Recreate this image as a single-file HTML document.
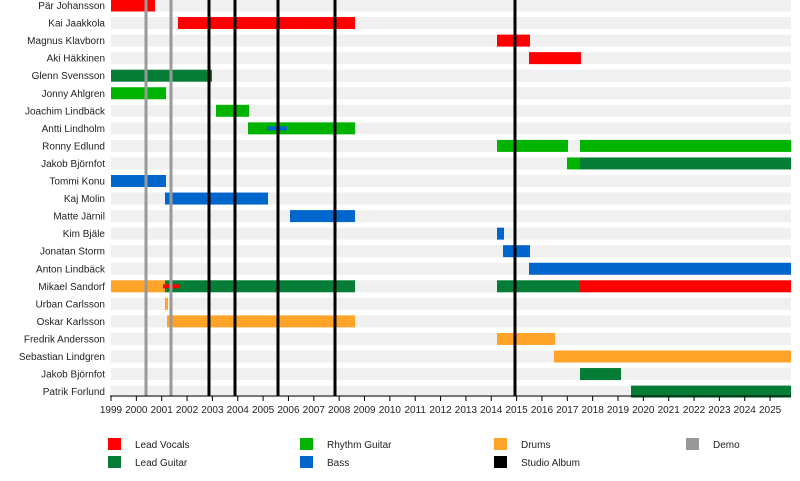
<!DOCTYPE html><html><head><style>body{margin:0;background:#fff}svg{font-family:"Liberation Sans",sans-serif;font-size:10px}</style></head><body>
<svg width="800" height="476" viewBox="0 0 800 476">
<g id="bands"></g><g id="bars"></g><g id="lines"></g><g id="lab"></g>
<script>
var ns="http://www.w3.org/2000/svg";
function el(p,t,a,txt){var e=document.createElementNS(ns,t);for(var k in a)e.setAttribute(k,a[k]);if(txt)e.textContent=txt;document.getElementById(p).appendChild(e);}
var R="#ff0000",DG="#067d36",G="#00b300",B="#0066cc",O="#ffa329";
var rows=[["Pär Johansson",[[111,155,R]]],["Kai Jaakkola",[[178,355,R]]],["Magnus Klavborn",[[497,530,R]]],["Aki Häkkinen",[[529,581,R]]],["Glenn Svensson",[[111,212,DG]]],["Jonny Ahlgren",[[111,166,G]]],["Joachim Lindbäck",[[216,249,G]]],["Antti Lindholm",[[248,355,G],[267,287,B,4]]],["Ronny Edlund",[[497,568,G],[580,791,G]]],["Jakob Björnfot",[[567,580,G],[580,791,DG]]],["Tommi Konu",[[111,166,B]]],["Kaj Molin",[[165,268,B]]],["Matte Järnil",[[290,355,B]]],["Kim Bjäle",[[497,504,B]]],["Jonatan Storm",[[503,530,B]]],["Anton Lindbäck",[[529,791,B]]],["Mikael Sandorf",[[111,165,O],[165,355,DG],[163,179,R,4],[497,580,DG],[580,791,R]]],["Urban Carlsson",[[165,168,O]]],["Oskar Karlsson",[[167,355,O]]],["Fredrik Andersson",[[497,555,O]]],["Sebastian Lindgren",[[554,791,O]]],["Jakob Björnfot",[[580,621,DG]]],["Patrik Forlund",[[631,791,DG]]]];
rows.forEach(function(r,i){var c=5.5+17.55*i;
el("bands","rect",{x:111,y:c-6,width:680,height:12,fill:"#f0f0f0"});
el("lab","text",{x:105,y:c+3.5,"text-anchor":"end",fill:"#222"},r[0]);
r[1].forEach(function(b){var h=b[3]||12;el("bars","rect",{x:b[0],y:c-h/2,width:b[1]-b[0],height:h,fill:b[2]});});});
[[146,"#999"],[171,"#999"],[209,"#000"],[235,"#000"],[278,"#000"],[335,"#000"],[515,"#000"]].forEach(function(l){el("lines","rect",{x:l[0]-1.5,y:0,width:3,height:396,fill:l[1]});});
el("lines","rect",{x:110,y:395.5,width:681,height:1,fill:"#000"});
for(var y=1999;y<=2025;y++){var x=111+(y-1999)*25.35;el("lines","rect",{x:x-0.5,y:396,width:1,height:5,fill:"#000"});el("lab","text",{x:x,y:413,"text-anchor":"middle",fill:"#222"},y);}
var lg=[[108,438,R,"Lead Vocals"],[108,456,DG,"Lead Guitar"],[300,438,G,"Rhythm Guitar"],[300,456,B,"Bass"],[494,438,O,"Drums"],[494,456,"#000","Studio Album"],[686,438,"#999","Demo"]];
lg.forEach(function(l){el("lab","rect",{x:l[0],y:l[1],width:13,height:12,fill:l[2]});el("lab","text",{x:l[0]+27,y:l[1]+10,fill:"#222"},l[3]);});
</script></svg></body></html>
